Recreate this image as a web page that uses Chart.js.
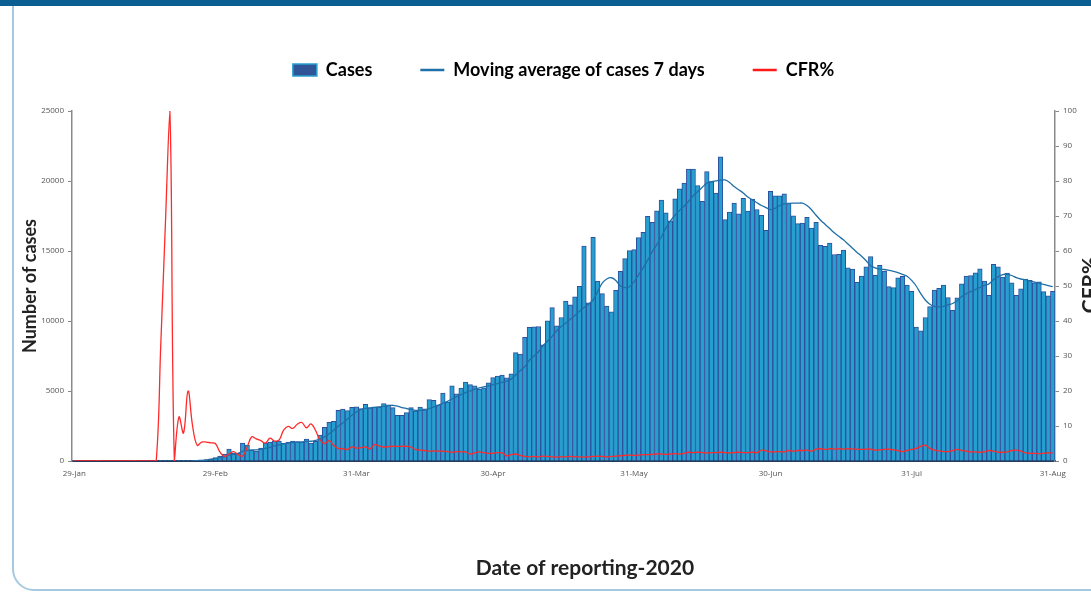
<!DOCTYPE html>
<html>
<head>
<meta charset="utf-8">
<script src="https://cdn.jsdelivr.net/npm/chart.js@4.4.0/dist/chart.umd.min.js"></script>
<style>
  html, body { margin: 0; padding: 0; background: #fff; overflow: hidden; }
  #topbar { position: absolute; left: 0; top: 0; width: 1091px; height: 6px; background: #0b5e92; }
  #frame { position: absolute; left: 12px; top: -30px; width: 1200px; height: 617px;
           border: 2px solid #a6c9e2; border-radius: 22px; }
  #wrap { position: absolute; left: 0; top: 0; width: 1091px; height: 593px; }
</style>
</head>
<body>
<div id="frame"></div>
<div id="topbar"></div>
<div id="wrap"><canvas id="chart"></canvas></div>
<script>
// Axes / ticks
const tickLabels = ["29-Jan", "29-Feb", "31-Mar", "30-Apr", "31-May", "30-Jun", "31-Jul", "31-Aug"];

// daily dates 29 Jan -> 31 Aug 2020
const months = ["Jan", "Feb", "Mar", "Apr", "May", "Jun", "Jul", "Aug"];
const dates = [];
for (let d = new Date(2020, 0, 29); d <= new Date(2020, 7, 31); d.setDate(d.getDate() + 1)) {
  dates.push(d.getDate() + "-" + months[d.getMonth()]);
}

// Cases
const cases = [
  4, 0, 0, 0, 0, 1, 0, 0, 0, 0,
  0, 0, 0, 1, 0, 0, 0, 0, 2, 2,
  5, 4, 10, 12, 15, 20, 30, 50, 70, 100,
  160, 250, 350, 500, 850, 570, 570, 1280, 1140, 780,
  710, 920, 1280, 1350, 1420, 1420, 1280, 1350, 1420, 1380,
  1350, 1560, 1280, 1400, 1850, 2400, 2770, 2840, 3620, 3700,
  3600, 3830, 3870, 3740, 4050, 3800, 3860, 3860, 4100, 4020,
  3810, 3270, 3270, 3460, 3810, 3570, 3860, 3720, 4380, 4340,
  4020, 4850, 4200, 5370, 4800, 5200, 5630, 5460, 5370, 5130,
  5230, 5590, 5960, 6060, 6130, 5940, 6230, 7740, 7640, 8830,
  9540, 9590, 9610, 8290, 10010, 10960, 9660, 10250, 11430, 11150,
  11720, 12480, 15360, 11290, 15980, 12850, 11950, 11060, 10650, 12190,
  13540, 14460, 15030, 15100, 15960, 16330, 17470, 17040, 17870, 18630,
  17730, 17160, 18730, 19440, 19860, 20860, 20860, 19670, 18540, 20670,
  19960, 19130, 21730, 17240, 17780, 18420, 17660, 18770, 17850, 18700,
  17950, 17540, 16480, 19270, 18940, 18940, 19080, 18390, 17520, 16950,
  16990, 17400, 16640, 17040, 15410, 15340, 15570, 14750, 14770, 15060,
  13800, 13710, 12760, 13210, 13870, 14610, 13270, 13970, 13560, 12450,
  12380, 13090, 13190, 12570, 12120, 9570, 9300, 10250, 11030, 12210,
  12340, 12570, 11670, 10770, 11650, 12660, 13210, 13240, 13440, 13730,
  12850, 11840, 14040, 13870, 13140, 13420, 12730, 11840, 12290, 13000,
  12900, 12730, 12800, 12100, 11790, 12120
];

// Moving average of cases 7 days
const movingAvg = [
  null, null, null, null, null, null, null, null, null, null,
  null, null, null, null, null, null, null, null, null, null,
  null, null, null, null, null, null, 20, 30, 45, 65,
  120, 170, 230, 300, 420, 480, 540, 680, 750, 790,
  800, 830, 900, 980, 1080, 1150, 1220, 1280, 1320, 1340,
  1360, 1400, 1410, 1480, 1560, 1720, 1950, 2200, 2480, 2720,
  2980, 3270, 3500, 3680, 3760, 3800, 3830, 3860, 3900, 3950,
  3980, 3920, 3820, 3750, 3680, 3620, 3610, 3640, 3750, 3860,
  3980, 4120, 4260, 4430, 4600, 4740, 4880, 5000, 5130, 5220,
  5300, 5370, 5450, 5530, 5610, 5700, 5850, 6150, 6450, 6750,
  7200, 7500, 7800, 8240, 8550, 8900, 9300, 9600, 9850, 10130,
  10400, 10700, 10960, 11200, 11500, 12100, 12700, 13000, 13090, 12900,
  12500, 12380, 12450, 12800, 13300, 13800, 14350, 14950, 15450, 16000,
  16650, 17150, 17550, 17900, 18200, 18550, 18950, 19250, 19550, 19850,
  19960, 20010, 20060, 20080, 19900, 19600, 19370, 19150, 18850, 18650,
  18450, 18250, 18100, 17950, 18050, 18250, 18370, 18400, 18420, 18420,
  18420, 18250, 17950, 17550, 17200, 16900, 16600, 16300, 16050, 15800,
  15500, 15200, 14900, 14620, 14300, 13950, 13800, 13700, 13680, 13620,
  13550, 13450, 13330, 13200, 12900, 12500, 11950, 11500, 11200, 11050,
  11010, 11050, 11150, 11250, 11450, 11750, 11950, 12100, 12250, 12400,
  12550, 12650, 12970, 13150, 13320, 13330, 13250, 13100, 13000, 12950,
  12850, 12780, 12700, 12620, 12520, 12450
];

// CFR % (right axis)
const cfr = [
  0, 0, 0, 0, 0, 0, 0, 0, 0, 0,
  0, 0, 0, 0, 0, 0, 0, 0, 0, 33,
  67, 100, 0, 12.6, 8, 20, 10, 4.5, 5.4, 5.4,
  5.2, 5.0, 2.6, 1.3, 2.0, 2.7, 1.8, 1.4, 4.0, 6.9,
  6.3, 5.8, 5.1, 6.5, 5.7, 6.0, 8.8, 9.9, 9.3, 10.5,
  11.0, 9.5, 10.6, 8.8, 6.0, 5.0, 5.8, 4.5, 3.6, 3.5,
  3.3, 4.0, 3.7, 3.8, 4.0, 3.5, 4.7, 4.3, 4.0, 4.1,
  4.2, 4.2, 4.2, 4.2, 4.0, 3.3, 3.1, 3.0, 2.8, 2.9,
  2.8, 2.8, 2.7, 2.5, 2.7, 2.6, 2.6, 2.0, 2.3, 2.6,
  2.4, 2.2, 2.2, 2.4, 2.3, 1.5, 1.8, 2.0, 1.6, 1.3,
  1.2, 1.3, 1.2, 1.4, 1.3, 1.2, 1.1, 1.2, 1.2, 1.3,
  1.2, 1.2, 1.1, 1.2, 1.3, 1.4, 1.3, 1.2, 1.3, 1.4,
  1.5, 1.6, 1.7, 1.6, 1.7, 1.8, 1.8, 1.9, 2.0, 2.0,
  1.9, 2.0, 2.1, 2.0, 2.2, 2.5, 2.4, 2.5, 2.4, 2.3,
  2.4, 2.4, 2.5, 2.4, 2.3, 2.4, 2.5, 2.4, 2.4, 2.5,
  2.4, 3.1, 2.9, 2.6, 2.6, 2.7, 2.6, 3.0, 2.8, 3.0,
  3.0, 3.1, 2.8, 3.4, 3.5, 3.3, 3.5, 3.4, 3.5, 3.4,
  3.5, 3.4, 3.4, 3.3, 3.4, 3.4, 3.1, 3.2, 3.3, 3.4,
  3.2, 3.0, 2.7, 3.0, 3.3, 3.6, 4.2, 4.5, 3.6, 3.1,
  2.9, 2.7, 2.7, 3.0, 3.3, 3.0, 2.8, 2.6, 2.6, 2.5,
  2.6, 3.0, 2.8, 2.5, 2.5, 2.6, 3.0, 3.1, 2.8, 2.3,
  2.2, 2.2, 2.1, 2.2, 2.3, 2.3
];

const titleFont = "Lato, 'Open Sans', sans-serif";
const tickFont = { family: "'Open Sans', sans-serif", size: 8 };

// extra space under the legend + titles placed by hand
const extras = {
  id: "extras",
  afterInit(chart) {
    const lg = chart.legend;
    const fit = lg.fit;
    lg.fit = function () { fit.call(this); this.height += 22; };
  },
  afterDraw(chart) {
    const c = chart.ctx;
    c.save();
    c.fillStyle = "#222";
    c.font = "bold 21px " + titleFont;
    c.textAlign = "center";
    c.textBaseline = "middle";
    c.fillText("Date of reporting-2020", 585, 568);
    c.translate(1090, 285);
    c.rotate(-Math.PI / 2);
    c.fillText("CFR%", 0, 0);
    c.restore();
  }
};

const ctx = document.getElementById("chart").getContext("2d");
const chart = new Chart(ctx, {
  type: "bar",
  data: {
    labels: dates,
    datasets: [
      {
        type: "bar",
        label: "Cases",
        data: cases,
        backgroundColor: "#259fcf",
        borderColor: "#2f4f9c",
        borderWidth: 1,
        barPercentage: 1,
        categoryPercentage: 1,
        yAxisID: "y",
        order: 3
      },
      {
        type: "line",
        label: "Moving average of cases 7 days",
        data: movingAvg,
        borderColor: "#1f6fa8",
        borderWidth: 1.3,
        pointRadius: 0,
        tension: 0.3,
        fill: false,
        yAxisID: "y",
        order: 2
      },
      {
        type: "line",
        label: "CFR%",
        data: cfr,
        borderColor: "#ff2a2a",
        borderWidth: 1.3,
        pointRadius: 0,
        tension: 0.4,
        fill: false,
        yAxisID: "y1",
        order: 1
      }
    ]
  },
  options: {
    responsive: true,
    maintainAspectRatio: false,
    animation: false,
    layout: { padding: { left: 0, right: 0, top: 13, bottom: 0 } },
    plugins: {
      tooltip: { enabled: false },
      legend: {
        position: "top",
        fullSize: false,
        labels: {
          usePointStyle: true,
          pointStyleWidth: 24,
          boxHeight: 12,
          padding: 48,
          color: "#222",
          font: { family: titleFont, size: 18, weight: "bold" },
          generateLabels: () => [
            { text: "Cases", fillStyle: "#2f5597", strokeStyle: "#2aa0d0", lineWidth: 1.5, pointStyle: "rect", datasetIndex: 0, hidden: false },
            { text: "Moving average of cases 7 days", fillStyle: "#1f6fa8", strokeStyle: "#1f6fa8", lineWidth: 2.5, pointStyle: "line", datasetIndex: 1, hidden: false },
            { text: "CFR%", fillStyle: "#ff1a1a", strokeStyle: "#ff1a1a", lineWidth: 2.5, pointStyle: "line", datasetIndex: 2, hidden: false }
          ]
        }
      }
    },
    scales: {
      x: {
        offset: true,
        grid: { display: false, drawTicks: false },
        border: { color: "#243a5e", width: 2 },
        ticks: {
          autoSkip: false,
          maxRotation: 0,
          padding: 8,
          color: "#555",
          font: tickFont,
          callback: function (v) {
            const l = this.getLabelForValue(v);
            return tickLabels.includes(l) ? l : "";
          }
        },
        afterFit: (s) => { s.height = 132; }
      },
      y: {
        position: "left",
        min: 0,
        max: 25000,
        grid: { display: true, drawOnChartArea: false, tickLength: 4, color: "#888" },
        border: { color: "#8a8a8a", width: 1.5 },
        ticks: { stepSize: 5000, padding: 4, color: "#555", font: tickFont, callback: (v) => String(v) },
        title: {
          display: true,
          text: "Number of cases",
          color: "#222",
          font: { family: titleFont, size: 18, weight: "bold" },
          padding: { top: 19, bottom: 0 }
        },
        afterFit: (s) => { s.width = 72; }
      },
      y1: {
        position: "right",
        min: 0,
        max: 100,
        grid: { display: true, drawOnChartArea: false, tickLength: 4, color: "#888" },
        border: { color: "#8a8a8a", width: 1.5 },
        ticks: { stepSize: 10, padding: 4, color: "#555", font: tickFont },
        afterFit: (s) => { s.width = 36; }
      }
    }
  },
  plugins: [extras]
});
</script>
</body>
</html>
